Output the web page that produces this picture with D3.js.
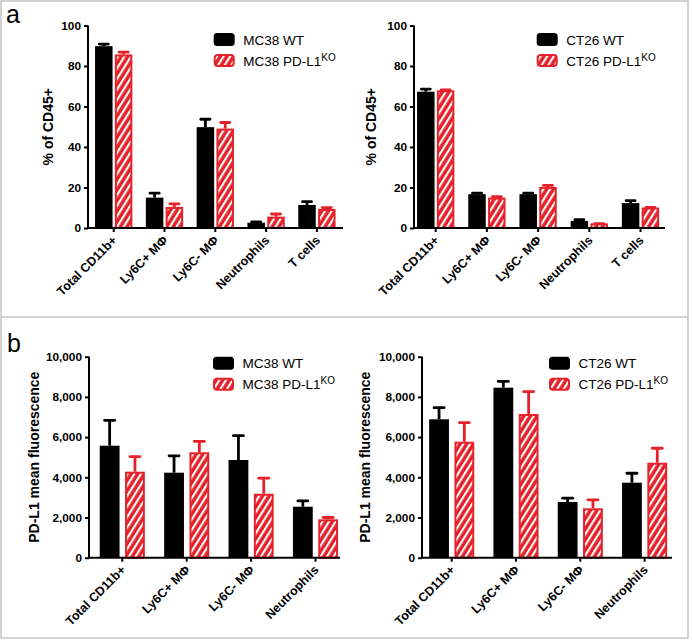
<!DOCTYPE html>
<html><head><meta charset="utf-8">
<script src="https://cdn.jsdelivr.net/npm/d3@7"></script>
<style>
html,body{margin:0;padding:0;background:#fff;}
svg{display:block;}
text{font-family:"Liberation Sans",Arial,Helvetica,sans-serif;}
</style></head>
<body>
<script>
// ---------- data ----------
const catsPct = ["Total CD11b+", "Ly6C+ M\u03A6", "Ly6C- M\u03A6", "Neutrophils", "T cells"];
const catsMfi = ["Total CD11b+", "Ly6C+ M\u03A6", "Ly6C- M\u03A6", "Neutrophils"];

const mc38PctWT    = [89.8, 15.0, 49.8, 2.6, 11.4];
const mc38PctWTErr = [1.6, 2.8, 4.5, 1.0, 2.2];
const mc38PctKO    = [85.7, 10.4, 49.1, 5.6, 9.4];
const mc38PctKOErr = [1.7, 2.1, 3.6, 1.9, 1.3];

const ct26PctWT    = [67.3, 16.7, 16.7, 3.5, 12.3];
const ct26PctWTErr = [1.9, 1.1, 1.1, 1.2, 1.8];
const ct26PctKO    = [68.0, 15.0, 20.3, 2.3, 10.1];
const ct26PctKOErr = [0.8, 1.1, 1.3, 0.5, 0.7];

const mc38MfiWT    = [5572, 4229, 4861, 2537];
const mc38MfiWTErr = [1320, 900, 1270, 350];
const mc38MfiKO    = [4279, 5244, 3184, 1910];
const mc38MfiKOErr = [810, 600, 830, 150];

const ct26MfiWT    = [6886, 8458, 2771, 3731];
const ct26MfiWTErr = [640, 370, 250, 530];
const ct26MfiKO    = [5771, 7149, 2458, 4726];
const ct26MfiKOErr = [1010, 1170, 480, 780];

const pctTicks = [0, 20, 40, 60, 80, 100];
const mfiTicks = [0, 2000, 4000, 6000, 8000, 10000];

const RED = "#e5222a";
const W = 692, H = 641;

const svg = d3.select("body").append("svg").attr("width", W).attr("height", H);

// hatch pattern
const defs = svg.append("defs");
const pat = defs.append("pattern").attr("id", "hatch").attr("patternUnits", "userSpaceOnUse")
  .attr("width", 5.6).attr("height", 10).attr("patternTransform", "rotate(32)");
pat.append("rect").attr("width", 5.6).attr("height", 10).attr("fill", RED);
pat.append("rect").attr("x", 0).attr("width", 2.1).attr("height", 10).attr("fill", "#fff");

// borders
svg.append("rect").attr("x", 1).attr("y", 1).attr("width", 687).attr("height", 637)
  .attr("fill", "none").attr("stroke", "#c4c4c4").attr("stroke-width", 1.5);
svg.append("line").attr("x1", 1).attr("x2", 688).attr("y1", 317).attr("y2", 317)
  .attr("stroke", "#c4c4c4").attr("stroke-width", 1.5);

const panels = [
  {cats: catsPct, wt: mc38PctWT, wtE: mc38PctWTErr, ko: mc38PctKO, koE: mc38PctKOErr,
   ticks: pctTicks, fmt: d3.format("d"), yMax: 100, yTop: 25.5, yBot: 228,
   ax0: 88, ax1: 343, c0: 113.7, step: 50.8, barW: 17.5, gap: 2.3, capW: 9,
   leg: [213.7, 33], names: ["MC38 WT", "MC38 PD-L1"], ylab: "% of CD45+", ylabX: 53, letter: "a", letPos: [6, 23]},
  {cats: catsPct, wt: ct26PctWT, wtE: ct26PctWTErr, ko: ct26PctKO, koE: ct26PctKOErr,
   ticks: pctTicks, fmt: d3.format("d"), yMax: 100, yTop: 25.5, yBot: 228,
   ax0: 414, ax1: 665, c0: 435.7, step: 51.2, barW: 17.5, gap: 2.3, capW: 9,
   leg: [536.7, 33], names: ["CT26 WT", "CT26 PD-L1"], ylab: "% of CD45+", ylabX: 376},
  {cats: catsMfi, wt: mc38MfiWT, wtE: mc38MfiWTErr, ko: mc38MfiKO, koE: mc38MfiKOErr,
   ticks: mfiTicks, fmt: d3.format(","), yMax: 10000, yTop: 356.7, yBot: 557.7,
   ax0: 89, ax1: 340, c0: 122.3, step: 64.4, barW: 19.8, gap: 5.5, capW: 10,
   leg: [213, 356.7], names: ["MC38 WT", "MC38 PD-L1"], ylab: "PD-L1 mean fluorescence", ylabX: 39, letter: "b", letPos: [7, 352]},
  {cats: catsMfi, wt: ct26MfiWT, wtE: ct26MfiWTErr, ko: ct26MfiKO, koE: ct26MfiKOErr,
   ticks: mfiTicks, fmt: d3.format(","), yMax: 10000, yTop: 356.7, yBot: 557.7,
   ax0: 422, ax1: 672, c0: 451.7, step: 64.3, barW: 19.8, gap: 5.5, capW: 10,
   leg: [549, 356.7], names: ["CT26 WT", "CT26 PD-L1"], ylab: "PD-L1 mean fluorescence", ylabX: 370}
];

panels.forEach(p => {
  const g = svg.append("g");
  const n = p.cats.length;
  const start = p.c0 - p.step / 2;
  const x = d3.scaleBand().domain(p.cats).range([start, start + n * p.step]).padding(0);
  const y = d3.scaleLinear().domain([0, p.yMax]).range([p.yBot, p.yTop]);
  const total = 2 * p.barW + p.gap;
  const sub = d3.scaleBand().domain(["WT", "KO"]).range([-total / 2, total / 2])
    .paddingInner(p.gap / (p.barW + p.gap)).paddingOuter(0);

  const rows = p.cats.map((c, i) => ({c, wt: p.wt[i], wtE: p.wtE[i], ko: p.ko[i], koE: p.koE[i]}));

  // error bars (behind bars)
  const errG = g.append("g");
  rows.forEach(r => {
    [["WT", r.wt, r.wtE, "#000"], ["KO", r.ko, r.koE, RED]].forEach(([s, v, e, col]) => {
      const cx = x(r.c) + x.bandwidth() / 2 + sub(s) + sub.bandwidth() / 2;
      const yt = y(v + e) + 1.2;
      errG.append("line").attr("x1", cx).attr("x2", cx).attr("y1", y(v)).attr("y2", yt)
        .attr("stroke", col).attr("stroke-width", 2.8);
      errG.append("line").attr("x1", cx - p.capW / 2).attr("x2", cx + p.capW / 2).attr("y1", yt).attr("y2", yt)
        .attr("stroke", col).attr("stroke-width", 2.8).attr("stroke-linecap", "round");
    });
  });

  // bars
  rows.forEach(r => {
    const bx = x(r.c) + x.bandwidth() / 2;
    g.append("rect").attr("x", bx + sub("WT")).attr("width", sub.bandwidth())
      .attr("y", y(r.wt)).attr("height", y(0) - y(r.wt)).attr("fill", "#000");
    g.append("rect").attr("x", bx + sub("KO") + 1).attr("width", sub.bandwidth() - 2)
      .attr("y", y(r.ko) + 1).attr("height", Math.max(0, y(0) - y(r.ko) - 1))
      .attr("fill", "url(#hatch)").attr("stroke", RED).attr("stroke-width", 2);
  });

  // y axis
  const yAx = g.append("g").attr("transform", `translate(${p.ax0},0)`)
    .call(d3.axisLeft(y).tickValues(p.ticks).tickFormat(p.fmt).tickSize(4).tickPadding(3));
  yAx.select(".domain").attr("stroke-width", 2).attr("d", `M0,${p.yTop}V${p.yBot}`);
  yAx.selectAll(".tick line").attr("stroke-width", 2);
  yAx.selectAll(".tick text").attr("font-size", 11.8).attr("font-weight", "bold")
    .attr("font-family", "Liberation Sans, Arial, sans-serif").attr("fill", "#000");

  // x axis
  const xAx = g.append("g").attr("transform", `translate(0,${p.yBot})`)
    .call(d3.axisBottom(x).tickSize(4).tickFormat(""));
  xAx.select(".domain").attr("stroke-width", 2).attr("d", `M${p.ax0},0H${p.ax1}`);
  xAx.selectAll(".tick line").attr("stroke-width", 2);
  p.cats.forEach(c => {
    const cx = x(c) + x.bandwidth() / 2;
    g.append("text").attr("transform", `translate(${cx + 4},${p.yBot + 13}) rotate(-45)`)
      .attr("text-anchor", "end").attr("font-size", 12.5).attr("font-weight", "bold").text(c);
  });

  // y label
  g.append("text").attr("transform", `translate(${p.ylabX},${(p.yTop + p.yBot) / 2}) rotate(-90)`)
    .attr("text-anchor", "middle").attr("font-size", 14).attr("font-weight", "bold").text(p.ylab);

  // legend
  const [lx, ly] = p.leg;
  g.append("rect").attr("x", lx).attr("y", ly).attr("width", 21).attr("height", 13).attr("rx", 3.5).attr("fill", "#000");
  g.append("rect").attr("x", lx + 1).attr("y", ly + 22).attr("width", 19).attr("height", 11).attr("rx", 3)
    .attr("fill", "url(#hatch)").attr("stroke", RED).attr("stroke-width", 2);
  g.append("text").attr("x", lx + 29.5).attr("y", ly + 11.5).attr("font-size", 13.5).text(p.names[0]);
  const t2 = g.append("text").attr("x", lx + 29.5).attr("y", ly + 32.5).attr("font-size", 13.5).text(p.names[1]);
  t2.append("tspan").attr("dy", -5).attr("font-size", 10).text("KO");

  if (p.letter) {
    g.append("text").attr("x", p.letPos[0]).attr("y", p.letPos[1]).attr("font-size", 25).text(p.letter);
  }
});
</script>
</body></html>
